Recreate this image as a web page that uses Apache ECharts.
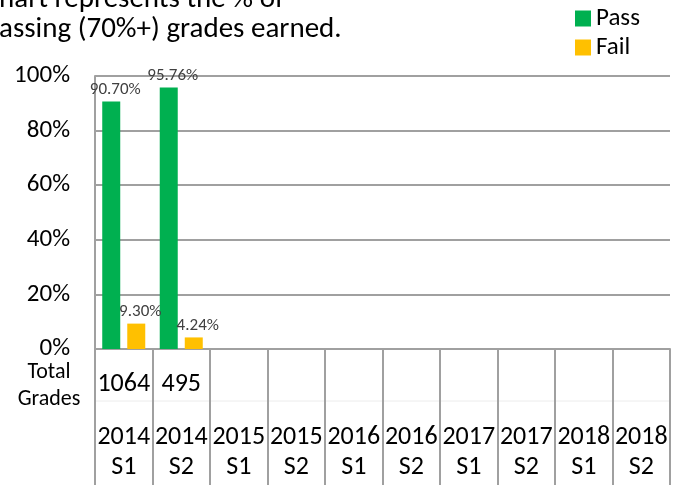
<!DOCTYPE html>
<html>
<head>
<meta charset="utf-8">
<style>
  html, body { margin: 0; padding: 0; background: #fff; }
  #chart { width: 681px; height: 485px; }
</style>
<script src="https://cdn.jsdelivr.net/npm/echarts@6/dist/echarts.min.js"></script>
</head>
<body>
<div id="chart"></div>
<script>
// 数据
var years = ["2014", "2014", "2015", "2015", "2016", "2016", "2017", "2017", "2018", "2018"];
var sems = ["S1", "S2", "S1", "S2", "S1", "S2", "S1", "S2", "S1", "S2"];
var totals = [1064, 495, null, null, null, null, null, null, null, null];
var passData = [90.70, 95.76, null, null, null, null, null, null, null, null];
var failData = [9.30, 4.24, null, null, null, null, null, null, null, null];
var yTicks = [0, 20, 40, 60, 80, 100];

var font = "Carlito, 'Open Sans', sans-serif";
var lineColor = "#a0a0a0";

(function() {
    var myChart = echarts.init(document.getElementById("chart"));

    var barLabel = {
        show: true,
        position: "top",
        distance: 3,
        offset: [4, 0],
        fontSize: 17,
        color: "#404040",
        fontFamily: font,
        formatter: function(p) { return p.value.toFixed(2) + "%"; }
    };

    var option = {
        animation: false,
        color: ["#00b050", "#ffc000"],
        textStyle: { fontFamily: font },
        grid: {
            left: 95,
            right: 11,
            top: 76,
            bottom: 136
        },
        legend: {
            left: 570,
            top: -1,
            orient: "vertical",
            itemWidth: 16,
            itemHeight: 16,
            itemGap: 0,
            icon: "rect",
            textStyle: { fontSize: 25, lineHeight: 29, color: "#000", fontFamily: font }
        },
        xAxis: {
            type: "category",
            data: years.map(function(y, i) { return i; }),
            axisLine: { lineStyle: { color: lineColor, width: 2 } },
            axisTick: {
                show: true,
                length: 140,
                alignWithLabel: false,
                lineStyle: { color: lineColor, width: 2 }
            },
            axisLabel: {
                interval: 0,
                margin: 22,
                formatter: function(v) {
                    var i = Number(v);
                    var t = totals[i] == null ? " " : String(totals[i]);
                    return "{n|" + t + "}\n{b| }\n{y|" + years[i] + "}\n{y|" + sems[i] + "}";
                },
                rich: {
                    n: { fontSize: 26, lineHeight: 26, color: "#000", fontFamily: font },
                    b: { fontSize: 10, lineHeight: 25 },
                    y: { fontSize: 26, lineHeight: 30, color: "#000", fontFamily: font }
                }
            }
        },
        yAxis: {
            type: "value",
            min: yTicks[0],
            max: yTicks[yTicks.length - 1],
            interval: 20,
            axisLine: { show: true, lineStyle: { color: lineColor, width: 2 } },
            axisTick: { show: false },
            axisLabel: {
                formatter: "{value}%",
                fontSize: 25,
                color: "#000",
                margin: 25,
                fontFamily: font
            },
            splitLine: { lineStyle: { color: lineColor, width: 2 } }
        },
        series: [
            {
                name: "Pass",
                type: "bar",
                barWidth: 18,
                barGap: "39%",
                data: passData,
                label: barLabel
            },
            {
                name: "Fail",
                type: "bar",
                barWidth: 18,
                data: failData,
                label: barLabel
            }
        ],
        graphic: [
            // 标题（截断）
            {
                type: "text",
                left: -1,
                top: -15,
                style: {
                    text: "hart represents the % of\nassing (70%+) grades earned.",
                    fontSize: 29,
                    lineHeight: 30,
                    fill: "#000",
                    fontFamily: font
                }
            },
            {
                type: "text",
                x: 49,
                y: 359,
                style: {
                    text: "Total\nGrades",
                    fontSize: 22,
                    lineHeight: 27,
                    align: "center",
                    fill: "#000",
                    fontFamily: font
                }
            },
            // 表格里的浅色横线
            {
                type: "line",
                shape: { x1: 95, y1: 401, x2: 670, y2: 401 },
                style: { stroke: "#ececec", lineWidth: 1 }
            }
        ]
    };

    myChart.setOption(option);
    window.addEventListener("resize", function() {
        myChart.resize();
    });
})();
</script>
</body>
</html>
